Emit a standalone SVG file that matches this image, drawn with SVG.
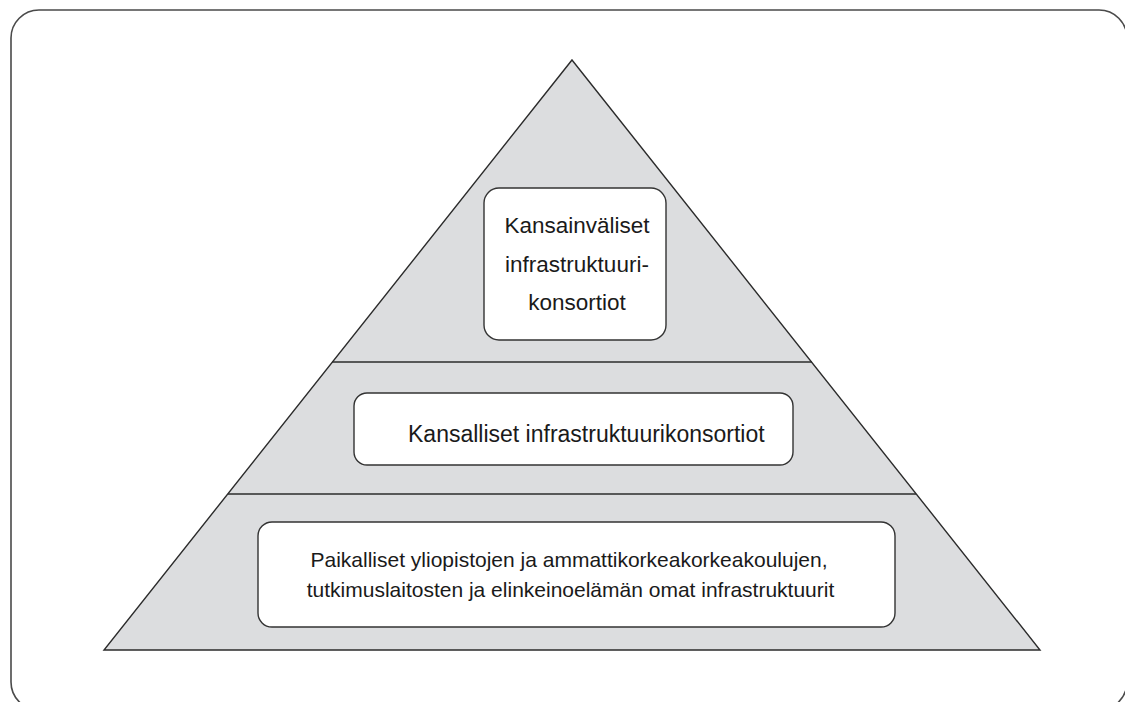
<svg xmlns="http://www.w3.org/2000/svg" width="1125" height="702" viewBox="0 0 1125 702">
<style>
.frame{fill:#fff;stroke:#4a4a4a;stroke-width:1.6}
.tri{fill:#dcdddf;stroke:#2b2b2b;stroke-width:1.4;stroke-linejoin:miter}
.div{stroke:#2b2b2b;stroke-width:1.3;fill:none}
.box{fill:#fff;stroke:#333;stroke-width:1.4}
.t{font-family:"Liberation Sans",Arial,sans-serif;fill:#1a1a1a}
</style>
<rect class="frame" x="11" y="10" width="1116" height="700" rx="28" ry="28"/>
<g id="pyramid">
<polygon class="tri" points="572,60 1040,650 104,650"/>
</g>
<g id="connectors">
<line class="div" x1="332" y1="362" x2="812" y2="362"/>
<line class="div" x1="228" y1="494" x2="916" y2="494"/>
</g>
<g id="node-international">
<rect class="box" x="484" y="188" width="182" height="152" rx="15" ry="15"/>
<text class="t" font-size="22.5" text-anchor="middle"><tspan x="577" y="233">Kansainväliset</tspan><tspan x="577" y="272">infrastruktuuri-</tspan><tspan x="577" y="310">konsortiot</tspan></text>
</g>
<g id="node-national">
<rect class="box" x="354" y="393" width="439" height="72" rx="13" ry="13"/>
<text class="t" font-size="23" x="408" y="442">Kansalliset infrastruktuurikonsortiot</text>
</g>
<g id="node-local">
<rect class="box" x="258" y="522" width="637" height="105" rx="14" ry="14"/>
<text class="t" font-size="21" text-anchor="middle"><tspan x="569" y="567">Paikalliset yliopistojen ja ammattikorkeakorkeakoulujen,</tspan><tspan x="570.5" y="597">tutkimuslaitosten ja elinkeinoelämän omat infrastruktuurit</tspan></text>
</g>
</svg>
